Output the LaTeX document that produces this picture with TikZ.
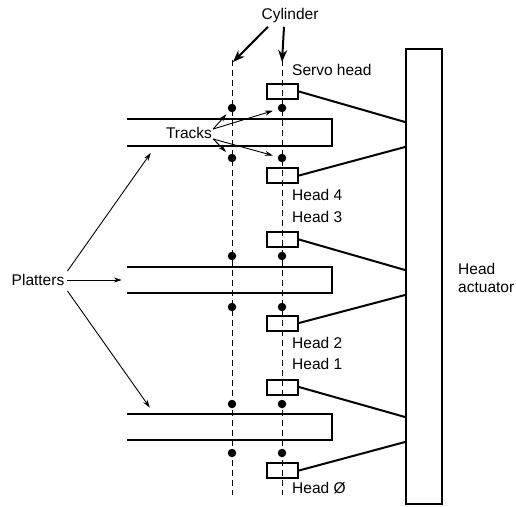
\documentclass[tikz,border=0pt]{standalone}
\usepackage{fontspec}
\setmainfont{Liberation Sans}
\usetikzlibrary{arrows, arrows.meta, positioning}

\begin{document}
\begin{tikzpicture}[x=1pt, y=-1pt, >={Stealth[length=8pt, width=5pt]}, font=\fontsize{15.5}{18}\selectfont]
  \tikzstyle{head} = [draw, line width=2pt, minimum width=31pt, minimum height=15pt, inner sep=0pt]
  \tikzstyle{dot} = [circle, fill, inner sep=0pt, minimum size=8.5pt]
  \tikzstyle{lbl} = [anchor=west, inner sep=0pt]
  \tikzstyle{platter} = [line width=2pt]
  \tikzstyle{arm} = [line width=2pt]
  \tikzstyle{guide} = [dash pattern=on 6pt off 4pt, line width=1pt]
  \tikzstyle{pointer} = [->, line width=0.9pt]
  \tikzstyle{bigpointer} = [-{Stealth[length=12pt, width=9pt]}, line width=2pt]

  \useasboundingbox (0,0) rectangle (516,506);

  % cylinder guide lines
  \coordinate (cylL top) at (232,60);
  \coordinate (cylL bot) at (232,495);
  \coordinate (cylR top) at (282,60);
  \coordinate (cylR bot) at (282,495);
  \draw[guide] (cylL top) -- (cylL bot);
  \draw[guide] (cylR top) -- (cylR bot);

  \node (cylinder) at (290,15) {Cylinder};
  \draw[bigpointer] ([xshift=-22pt, yshift=-1pt]cylinder.south) -- ([xshift=1pt, yshift=-2pt]cylL top);
  \draw[bigpointer] ([xshift=-6pt, yshift=-1pt]cylinder.south) -- ([yshift=-2pt]cylR top);

  % platters
  \foreach \i/\y in {1/132.5, 2/280, 3/427} {
    \node[minimum width=205pt, minimum height=26.5pt, inner sep=0pt] (platter\i) at (229.5,\y) {};
    \draw[platter] (platter\i.north west) -- (platter\i.north east)
      -- (platter\i.south east) -- (platter\i.south west);
  }

  % track dots
  \foreach \y [count=\i] in {108, 158, 256, 307, 404, 453} {
    \node[dot] (dotL\i) at (232,\y) {};
    \node[dot] (dotR\i) at (282,\y) {};
  }

  % actuator and heads
  \node[draw, line width=2pt, minimum width=36pt, minimum height=455pt, inner sep=0pt] (actuator) at (424,276.5) {};
  \node[lbl, align=left] (actlabel) at (458,278) {Head\\actuator};

  \foreach \name/\y/\ya in {servo/91.5/122, headiv/175.5/147, headiii/239.5/270,
                            headii/323/295, headi/387/417, head0/470.5/442} {
    \node[head] (\name) at (282.5,\y) {};
    \coordinate (\name arm) at (actuator.west |- 0,\ya);
    \draw[arm] (\name.east) -- (\name arm);
  }

  \node[lbl] (servolabel) at (292,70) {Servo head};
  \node[lbl] (ivlabel) at (292,195) {Head 4};
  \node[lbl] (iiilabel) at (292,217) {Head 3};
  \node[lbl] (iilabel) at (292,343) {Head 2};
  \node[lbl] (ilabel) at (292,364) {Head 1};
  \node[lbl] (olabel) at (292,488) {Head Ø};

  % tracks
  \node[inner sep=1pt] (tracks) at (189,133) {Tracks};
  \draw[pointer, shorten >=4pt] ([yshift=4pt]tracks.east) -- (dotL1);
  \draw[pointer, shorten >=5pt] ([yshift=4pt]tracks.east) -- (dotR1);
  \draw[pointer, shorten >=4pt] ([yshift=-6pt]tracks.east) -- (dotL2);
  \draw[pointer, shorten >=5pt] ([yshift=-6pt]tracks.east) -- (dotR2);

  % platters label
  \node[inner sep=1pt] (platters) at (38,280) {Platters};
  \draw[pointer] ([xshift=2pt, yshift=9pt]platters.east) -- ([xshift=24pt, yshift=-7pt]platter1.south west);
  \draw[pointer] ([xshift=2pt]platters.east) -- ([xshift=-5pt]platter2.west);
  \draw[pointer] ([xshift=2pt, yshift=-11pt]platters.east) -- ([xshift=23pt, yshift=6pt]platter3.north west);
\end{tikzpicture}
\end{document}
